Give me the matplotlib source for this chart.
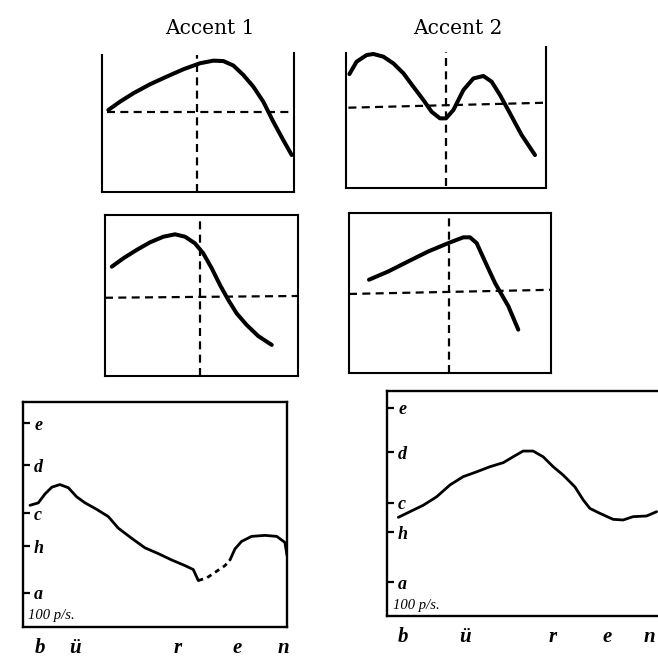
import matplotlib
matplotlib.use("Agg")
import matplotlib.pyplot as plt

# ---------------- data ----------------
# schematic panels (relative time 0-100, relative pitch 0-100)
tl_x = [3.3, 9.4, 16.3, 25, 33.7, 42.4, 51, 58, 63.2, 68.4, 73.6, 78.8, 84, 89.2, 94.4, 98.8]
tl_y = [59, 65, 71, 77.5, 83, 88.3, 92.6, 94.5, 94.2, 91, 84.2, 75.8, 65, 50.6, 37.4, 26.6]
tl_h, tl_v = 57.8, 49.3

tr_x = [1.7, 5.3, 10.3, 13.7, 18.7, 23.7, 28.7, 33.7, 38.7, 42.8, 47, 50, 53.7, 58.7,
        63.7, 68.7, 72.8, 77, 82, 87.8, 94.5]
tr_y = [84.4, 93.6, 98.5, 99.3, 97.3, 92.3, 85, 75, 65.2, 56.5, 51.6, 51.6, 57.8, 72.6,
        81.2, 83, 78.8, 68.9, 55.3, 39.3, 24.4]
tr_h0, tr_h1, tr_v = 59.5, 63.2, 50

ml_x = [3.5, 9.5, 16.4, 23.3, 30.2, 36.3, 41.5, 46.6, 50.9, 55.3, 59.6, 63.9, 68.2, 73.4, 79.4, 86.4]
ml_y = [67.9, 73.1, 78.3, 83, 86.5, 88, 86.5, 82.4, 76.2, 66.9, 56.5, 47.2, 38.9, 31.7, 24.8, 19.3]
ml_h0, ml_h1, ml_v = 48.6, 49.7, 49.2

mr_x = [9.9, 19.5, 29.4, 39.3, 49.2, 56.6, 59.9, 63.2, 67.3, 72.3, 78.9, 83.8]
mr_y = [58.3, 63.5, 69.8, 76, 81.2, 84.8, 84.8, 81.2, 69.8, 56.2, 41.7, 27.1]
mr_h0, mr_h1, mr_v = 49.4, 52, 49.5

# measured curves (time in arbitrary units, pitch in Hz)
bl_x1 = [2.65, 5.8, 8.3, 10.9, 14, 17.2, 20.3, 23.5, 27.9, 32.3, 36.1, 41.2, 46.2, 51.3,
         56.3, 61.4, 64.5, 66.4]
bl_y1 = [135, 135.8, 138.7, 141.0, 141.9, 140.8, 137.8, 135.8, 133.7, 131.4, 127.8, 124.7,
         121.9, 120.2, 118.4, 116.8, 115.7, 112.7]
bl_x2 = [66.4, 69.6, 76.5, 78.4]
bl_y2 = [112.7, 113.4, 116.8, 118.4]
bl_x3 = [78.4, 80.3, 82.8, 86.6, 91.7, 96.1, 99.2, 100]
bl_y3 = [118.4, 121.6, 123.8, 125.3, 125.6, 125.3, 123.5, 119.7]

br_x = [4.3, 8.7, 13.8, 18.8, 23.9, 28.9, 34, 39, 44.1, 47.8, 51.6, 55.4, 59.2, 63, 66.8,
        71.2, 74.4, 76.9, 80.7, 85.7, 89.5, 93.3, 98.4, 102.2]
br_y = [127.4, 129.1, 131.1, 133.7, 137.5, 140.2, 141.8, 143.5, 144.9, 146.9, 148.9, 148.9,
        146.9, 143.5, 140.7, 136.9, 132.7, 130.1, 128.6, 126.8, 126.6, 127.6, 127.8, 129.1]

note_names = ["a", "h", "c", "d", "e"]
left_note_hz = [109.5, 122.3, 132.5, 148.6, 164.4]
right_note_hz = [109.3, 123.0, 131.9, 148.5, 164.8]
left_sounds = ["b", "ü", "r", "e", "n"]
left_sound_x = [6.4, 19.7, 58.7, 81, 98.5]
right_sounds = ["b", "ü", "r", "e", "n"]
right_sound_x = [6.1, 29.5, 62.9, 83.3, 99.6]
titles = ["Accent 1", "Accent 2"]
unit_label = "100 p/s."

# ---------------- figure ----------------
W, H = 658, 657
fig = plt.figure(figsize=(W / 100, H / 100), dpi=100)
fig.patch.set_facecolor("white")

def rect(x0, y0, x1, y1):
    return [x0 / W, 1 - y1 / H, (x1 - x0) / W, (y1 - y0) / H]

CURVE = dict(color="black", lw=2.9, solid_capstyle="round", solid_joinstyle="round")
DASH = dict(color="black", lw=1.6, dashes=(3.6, 2.4))

def schematic(ax, top_spine, ytop=100):
    ax.set_xlim(0, 100)
    ax.set_ylim(0, ytop)
    ax.set_xticks([])
    ax.set_yticks([])
    for s in ax.spines.values():
        s.set_linewidth(1.5)
    ax.spines["top"].set_visible(top_spine)

ax1 = fig.add_axes(rect(102, 53, 294, 192))
schematic(ax1, False)
ax1.spines["left"].set_bounds(0, 98.5)
ax1.plot([2.6, 100], [tl_h, tl_h], **DASH)
ax1.plot([tl_v, tl_v], [0, 98.5], **DASH)
ax1.plot(tl_x, tl_y, **CURVE)

ax2 = fig.add_axes(rect(346, 46.7, 546, 188))
schematic(ax2, False, ytop=104.7)
ax2.spines["left"].set_bounds(0, 100)
ax2.plot([1.2, 100], [tr_h0, tr_h1], **DASH)
ax2.plot([tr_v, tr_v], [1.5, 101], **DASH)
ax2.plot(tr_x, tr_y, **CURVE)

ax3 = fig.add_axes(rect(105, 215, 298, 376))
schematic(ax3, True)
ax3.plot([0, 100], [ml_h0, ml_h1], **DASH)
ax3.plot([ml_v, ml_v], [0, 100], **DASH)
ax3.plot(ml_x, ml_y, **CURVE)

ax4 = fig.add_axes(rect(349, 213, 551, 373))
schematic(ax4, True)
ax4.plot([0, 100], [mr_h0, mr_h1], **DASH)
ax4.plot([mr_v, mr_v], [0, 100], **DASH)
ax4.plot(mr_x, mr_y, **CURVE)

fig.text(210 / W, 1 - 28 / H, titles[0], ha="center", va="center",
         family="DejaVu Serif", fontsize=14.5)
fig.text(458 / W, 1 - 28 / H, titles[1], ha="center", va="center",
         family="DejaVu Serif", fontsize=14.5)

SCRIPT = dict(family="Liberation Serif", style="italic")

def measured(ax, ylim, xlim, note_hz, sounds, sound_x):
    ax.set_yscale("log")
    ax.set_ylim(*ylim)
    ax.set_xlim(*xlim)
    ax.minorticks_off()
    ax.set_yticks(note_hz, note_names)
    ax.tick_params(axis="y", direction="in", length=5, width=1.6, pad=-8,
                   labelsize=13)
    for lab in ax.get_yticklabels():
        lab.set_horizontalalignment("left")
        lab.set_fontfamily("Liberation Serif")
        lab.set_fontstyle("italic")
        lab.set_fontweight("bold")
    ax.set_xticks(sound_x, sounds)
    ax.tick_params(axis="x", length=0, pad=8, labelsize=15)
    for lab in ax.get_xticklabels():
        lab.set_fontfamily("Liberation Serif")
        lab.set_fontstyle("italic")
        lab.set_fontweight("bold")
    for s in ax.spines.values():
        s.set_linewidth(1.7)
    ax.text(0.02, 0.02, unit_label, transform=ax.transAxes, fontsize=10.5,
            ha="left", va="bottom", **SCRIPT)

LW = dict(color="black", lw=2.0, solid_joinstyle="round", solid_capstyle="round")

ax5 = fig.add_axes(rect(23, 402, 287, 627))
measured(ax5, (100.8, 173), (0, 100), left_note_hz, left_sounds, left_sound_x)
ax5.plot(bl_x1, bl_y1, **LW)
ax5.plot(bl_x2, bl_y2, color="black", lw=2.0, dashes=(1.8, 1.6))
ax5.plot(bl_x3, bl_y3, **LW)

ax6 = fig.add_axes(rect(387, 391, 664, 616))
measured(ax6, (101, 171.5), (0, 105), right_note_hz, right_sounds, right_sound_x)
ax6.plot(br_x, br_y, **LW)

fig.savefig("out.png", dpi=100, facecolor="white")
